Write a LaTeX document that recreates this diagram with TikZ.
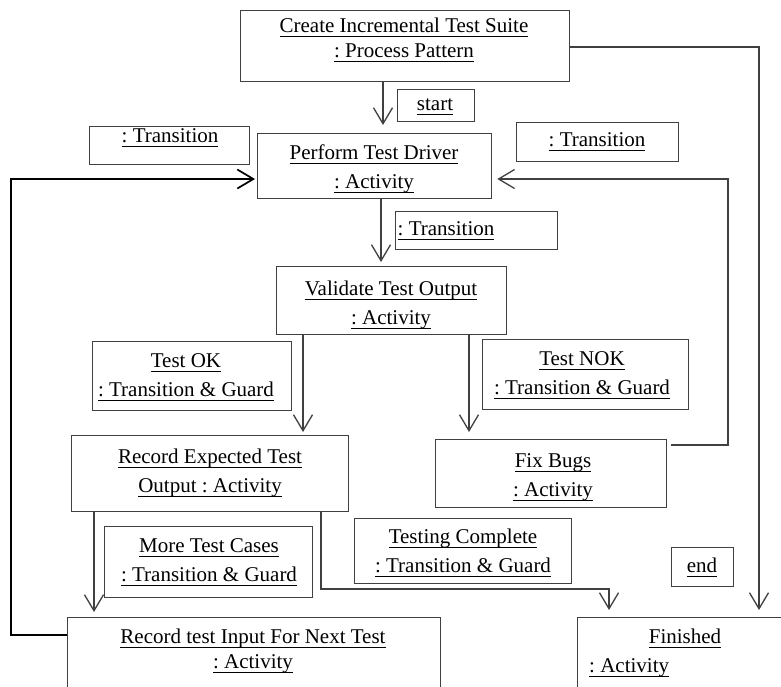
\documentclass[tikz,border=0pt]{standalone}
\usepackage{fontspec}
\setmainfont{Liberation Serif}
\usetikzlibrary{arrows.meta,calc}
\frenchspacing

% underlined label text: the text followed by a rule of the same width
\newsavebox{\ulinebox}
\newcommand{\undl}[1]{\sbox{\ulinebox}{#1}\rlap{\usebox{\ulinebox}}\rule[-4.5pt]{\wd\ulinebox}{1pt}}

\tikzset{
  box/.style={draw=black!75, line width=1.3pt, inner sep=0pt, anchor=north west},
  lbl/.style={font=\fontsize{21}{29}\selectfont\frenchspacing, align=center, inner sep=0pt, text=black},
  tight/.style={font=\fontsize{21}{25}\selectfont\frenchspacing},
  flow/.style={draw=black!75, line width=1.3pt, -{Straight Barb[length=16pt,width=19pt]}},
  loopline/.style={draw=black, line width=1.7pt},
}

\begin{document}
\begin{tikzpicture}[x=1pt, y=-1pt]
  \useasboundingbox (0,0) rectangle (781,686);
  \fill[white] (0,0) rectangle (781,686);
  \clip (0,0) rectangle (781,686);

  % activity and transition boxes
  \node[box, minimum width=329pt, minimum height=71pt] (create)   at (240,10)  {};
  \node[box, minimum width=77pt,  minimum height=32pt] (start)    at (397,89)  {};
  \node[box, minimum width=160pt, minimum height=38pt] (trL)      at (89,126)  {};
  \node[box, minimum width=234pt, minimum height=65pt] (perform)  at (257,133) {};
  \node[box, minimum width=162pt, minimum height=39pt] (trR)      at (516,122) {};
  \node[box, minimum width=162pt, minimum height=38pt] (trM)      at (395,211) {};
  \node[box, minimum width=230pt, minimum height=68pt] (validate) at (276,266) {};
  \node[box, minimum width=199pt, minimum height=69pt] (testok)   at (92,341)  {};
  \node[box, minimum width=206pt, minimum height=70pt] (testnok)  at (482,339) {};
  \node[box, minimum width=277pt, minimum height=76pt] (recexp)   at (71,435)  {};
  \node[box, minimum width=231pt, minimum height=68pt] (fixbugs)  at (435,439) {};
  \node[box, minimum width=208pt, minimum height=71pt] (moretc)   at (104,526) {};
  \node[box, minimum width=217pt, minimum height=65pt] (testcomp) at (354,518) {};
  \node[box, minimum width=62pt,  minimum height=39pt] (endbox)   at (671,547) {};
  \node[box, minimum width=230pt, minimum height=100pt] (finished) at (577,617) {};
  \node[box, minimum width=373pt, minimum height=100pt] (recinput) at (67,617) {};

  % labels
  \node[lbl, tight] (createtxt) at (404,40) {\undl{Create Incremental Test Suite}\\\undl{: Process Pattern}};
  \node[lbl] (starttxt)    at (435,107) {\undl{start}};
  \node[lbl] (trLtxt)      at (170,138) {\undl{: Transition}};
  \node[lbl] (performtxt)  at (374,169) {\undl{Perform Test Driver}\\\undl{: Activity}};
  \node[lbl] (trRtxt)      at (597,142) {\undl{: Transition}};
  \node[lbl] (trMtxt)      at (446,231) {\undl{: Transition}};
  \node[lbl] (validatetxt) at (391,305) {\undl{Validate Test Output}\\\undl{: Activity}};
  \node[lbl] (testoktxt)   at (186,377) {\undl{Test OK}\\\undl{: Transition \& Guard}};
  \node[lbl] (testnoktxt)  at (582,375) {\undl{Test NOK}\\\undl{: Transition \& Guard}};
  \node[lbl] (recexptxt)   at (210,473) {\undl{Record Expected Test}\\\undl{Output : Activity}};
  \node[lbl] (fixbugstxt)  at (553,477) {\undl{Fix Bugs}\\\undl{: Activity}};
  \node[lbl] (moretctxt)   at (209,562) {\undl{More Test Cases}\\\undl{: Transition \& Guard}};
  \node[lbl] (testcomptxt) at (463,553) {\undl{Testing Complete}\\\undl{: Transition \& Guard}};
  \node[lbl] (endtxt)      at (702,567) {\undl{end}};
  \node[lbl] (finishedtxt) at (685,638) {\undl{Finished}};
  \node[lbl, anchor=west] (finishedsub) at (589,668) {\undl{: Activity}};
  \node[lbl, tight] (recinputtxt) at (253,651) {\undl{Record test Input For Next Test}\\\undl{: Activity}};

  % lanes used by the connectors
  \coordinate (xA) at (383,0);
  \coordinate (xB) at (381,0);
  \coordinate (xC) at (303,0);
  \coordinate (xD) at (469,0);
  \coordinate (xE) at (728,0);
  \coordinate (xF) at (759,0);
  \coordinate (xG) at (321,0);
  \coordinate (xG2) at (609,0);
  \coordinate (xH) at (94,0);
  \coordinate (xI) at (11,0);
  \coordinate (yE) at (0,445);
  \coordinate (yF) at (0,47);
  \coordinate (yG) at (0,589);
  \coordinate (yI) at (0,635);
  \coordinate (yIn) at (0,179);

  % connectors
  \draw[flow, shorten >=8pt] (create.south -| xA) -- (perform.north -| xA);
  \draw[flow, shorten >=4pt] (perform.south -| xB) -- (validate.north -| xB);
  \draw[flow, shorten >=3pt] (validate.south -| xC) -- (recexp.north -| xC);
  \draw[flow, shorten >=7pt] (validate.south -| xD) -- (fixbugs.north -| xD);
  \draw[flow, shorten >=5pt] ($(fixbugs.east |- yE)+(4,0)$) -| (xE |- yIn) -- (perform.east |- yIn);
  \draw[flow, shorten >=7pt] (create.east |- yF) -| (finished.north -| xF);
  \draw[flow, shorten >=7pt] (recexp.south -| xG) |- (xG2 |- yG) -- (finished.north -| xG2);
  \draw[flow, shorten >=5pt] (recexp.south -| xH) -- (recinput.north -| xH);
  \draw[flow, loopline, shorten >=2pt] (recinput.west |- yI) -| (xI |- yIn) -- (perform.west |- yIn);
\end{tikzpicture}
\end{document}
